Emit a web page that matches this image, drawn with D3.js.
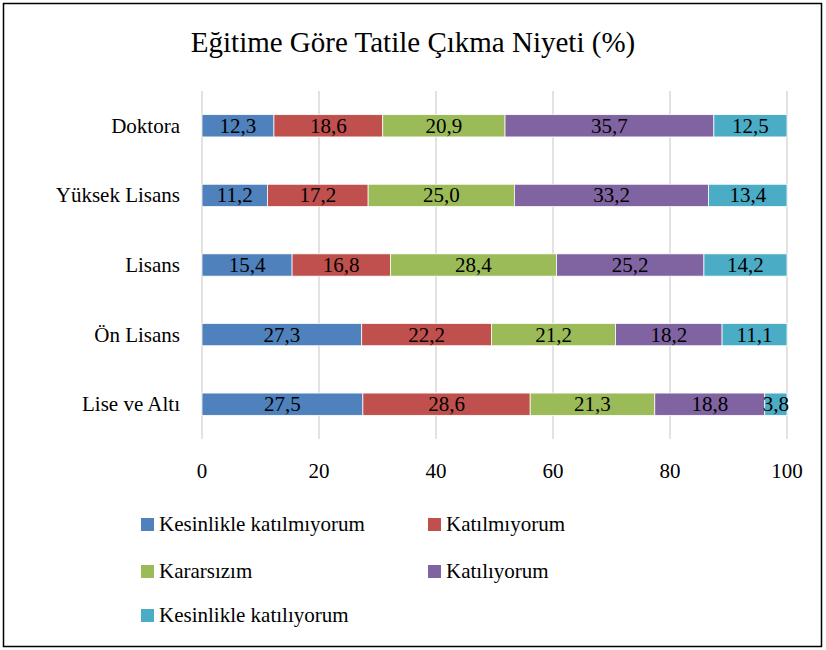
<!DOCTYPE html>
<html>
<head>
<meta charset="utf-8">
<title>Eğitime Göre Tatile Çıkma Niyeti (%)</title>
<script src="https://cdn.jsdelivr.net/npm/d3@7"></script>
<style>
  body { margin: 0; background: #fff; }
  svg text { fill: #000; }
</style>
</head>
<body>
<svg id="chart" width="826" height="650"></svg>
<script>
  var categories = ['Doktora', 'Yüksek Lisans', 'Lisans', 'Ön Lisans', 'Lise ve Altı'];
  var seriesNames = ['Kesinlikle katılmıyorum', 'Katılmıyorum', 'Kararsızım', 'Katılıyorum', 'Kesinlikle katılıyorum'];
  var seriesColors = ['#4F81BD', '#C0504D', '#9BBB59', '#8064A2', '#4BACC6'];
  var kesinlikleKatilmiyorum = [12.3, 11.2, 15.4, 27.3, 27.5];
  var katilmiyorum = [18.6, 17.2, 16.8, 22.2, 28.6];
  var kararsizim = [20.9, 25.0, 28.4, 21.2, 21.3];
  var katiliyorum = [35.7, 33.2, 25.2, 18.2, 18.8];
  var kesinlikleKatiliyorum = [12.5, 13.4, 14.2, 11.1, 3.8];
  var xTicks = [0, 20, 40, 60, 80, 100];

  var seriesValues = [kesinlikleKatilmiyorum, katilmiyorum, kararsizim, katiliyorum, kesinlikleKatiliyorum];
  var rows = categories.map(function(c, i) {
    var r = { cat: c };
    seriesNames.forEach(function(s, j) { r[s] = seriesValues[j][i]; });
    return r;
  });

  var FONT = '"Liberation Serif", "DejaVu Serif", serif';

  var svg = d3.select('#chart');

  // outer frame
  svg.append('rect')
    .attr('x', 3.5).attr('y', 3.5)
    .attr('width', 818).attr('height', 643)
    .attr('fill', '#fff').attr('stroke', '#000').attr('stroke-width', 1.5);

  svg.append('text')
    .attr('x', 413).attr('y', 52)
    .attr('text-anchor', 'middle')
    .style('font-family', FONT)
    .style('font-size', '29px')
    .text('Eğitime Göre Tatile Çıkma Niyeti (%)');

  var x = d3.scaleLinear().domain([0, 100]).range([202, 787]);
  var y = d3.scaleBand().domain(categories).range([91, 439]).paddingInner(0.68).paddingOuter(0.34);

  // gridlines
  svg.append('g').selectAll('line')
    .data(xTicks)
    .join('line')
      .attr('x1', function(d) { return x(d); })
      .attr('x2', function(d) { return x(d); })
      .attr('y1', 91).attr('y2', 439)
      .attr('stroke', '#d9d9d9').attr('stroke-width', 1.5);

  var stack = d3.stack().keys(seriesNames)(rows);

  var layers = svg.append('g').selectAll('g')
    .data(stack)
    .join('g')
      .attr('fill', function(d, i) { return seriesColors[i]; });

  layers.selectAll('rect')
    .data(function(d) { return d; })
    .join('rect')
      .attr('x', function(d) { return x(d[0]); })
      .attr('y', function(d) { return y(d.data.cat); })
      .attr('width', function(d) { return x(d[1]) - x(d[0]); })
      .attr('height', y.bandwidth())
      .attr('stroke', '#fff').attr('stroke-width', 0.75);

  var fmt = function(v) { return v.toFixed(1).replace('.', ','); };

  layers.selectAll('text')
    .data(function(d) { return d.map(function(p) { return { p: p, key: d.key }; }); })
    .join('text')
      .attr('x', function(d) { return (x(d.p[0]) + x(d.p[1])) / 2; })
      .attr('y', function(d) { return y(d.p.data.cat) + y.bandwidth() / 2 + 7; })
      .attr('text-anchor', 'middle')
      .style('font-family', FONT)
      .style('font-size', '21px')
      .text(function(d) { return fmt(d.p.data[d.key]); });

  // category labels
  svg.append('g').selectAll('text')
    .data(categories)
    .join('text')
      .attr('x', 180)
      .attr('y', function(d) { return y(d) + y.bandwidth() / 2 + 7; })
      .attr('text-anchor', 'end')
      .style('font-family', FONT)
      .style('font-size', '21px')
      .text(function(d) { return d; });

  // x tick labels
  svg.append('g').selectAll('text')
    .data(xTicks)
    .join('text')
      .attr('x', function(d) { return x(d); })
      .attr('y', 478)
      .attr('text-anchor', 'middle')
      .style('font-family', FONT)
      .style('font-size', '21px')
      .text(function(d) { return d; });

  // legend
  var legendPos = [[141, 524], [428, 524], [141, 571], [428, 571], [141, 615]];
  var legend = svg.append('g').selectAll('g')
    .data(seriesNames)
    .join('g')
      .attr('transform', function(d, i) { return 'translate(' + legendPos[i][0] + ',' + legendPos[i][1] + ')'; });
  legend.append('rect')
    .attr('x', 0).attr('y', -6)
    .attr('width', 13).attr('height', 13)
    .attr('fill', function(d, i) { return seriesColors[i]; });
  legend.append('text')
    .attr('x', 18).attr('y', 7)
    .style('font-family', FONT)
    .style('font-size', '21px')
    .text(function(d) { return d; });
</script>
</body>
</html>
